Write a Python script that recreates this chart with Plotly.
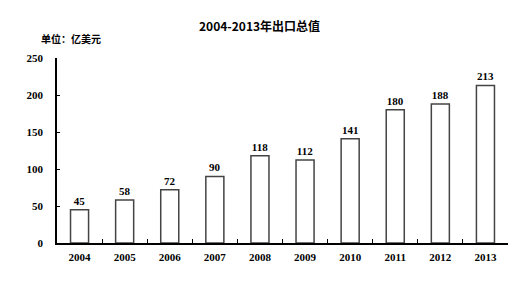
import plotly.graph_objects as go

years = ["2004", "2005", "2006", "2007", "2008", "2009", "2010", "2011", "2012", "2013"]
values = [45, 58, 72, 90, 118, 112, 141, 180, 188, 213]
y_ticks = [0, 50, 100, 150, 200, 250]

serif = "Liberation Serif, Times New Roman, serif"
cjk = "Noto Sans CJK SC, sans-serif"

fig = go.Figure(go.Bar(
    x=years, y=values,
    marker=dict(color="white", line=dict(color="#444444", width=1.5)),
    texttemplate="<b>%{y}</b>",
    textposition="outside",
    textfont=dict(family=serif, size=11, color="black"),
    cliponaxis=False,
))

fig.update_layout(
    width=530, height=303,
    margin=dict(l=57, r=22, t=58, b=60),
    paper_bgcolor="white", plot_bgcolor="white",
    bargap=0.6,
    showlegend=False,
    font=dict(family=serif, size=11, color="black"),
)
fig.add_annotation(text="<b>2004-2013年出口总值</b>", x=0.45, y=1.0, xref="paper", yref="paper",
                   yshift=43, showarrow=False, font=dict(family=cjk, size=12, color="black"))
fig.add_annotation(text="<b>单位：亿美元</b>", x=-0.04, y=1.0, xref="paper", yref="paper",
                   xanchor="left", yshift=29, showarrow=False,
                   font=dict(family=cjk, size=10, color="black"))

fig.update_xaxes(
    type="category",
    tickvals=years, ticktext=["<b>%s</b>" % y for y in years],
    showline=True, linecolor="black", linewidth=1.5,
    ticks="inside", tickson="boundaries", ticklen=4, tickcolor="black",
    tickfont=dict(family=serif, size=11, color="black"),
    showgrid=False, ticklabelstandoff=3,
)
fig.update_yaxes(
    range=[0, 250], tickvals=y_ticks,
    ticktext=["<b>%d</b>" % t for t in y_ticks],
    showline=True, linecolor="black", linewidth=1.5,
    ticks="inside", ticklen=3, tickcolor="black",
    tickfont=dict(family=serif, size=11, color="black"),
    showgrid=False, zeroline=False, ticklabelstandoff=10,
)

fig.write_html("out.html")
